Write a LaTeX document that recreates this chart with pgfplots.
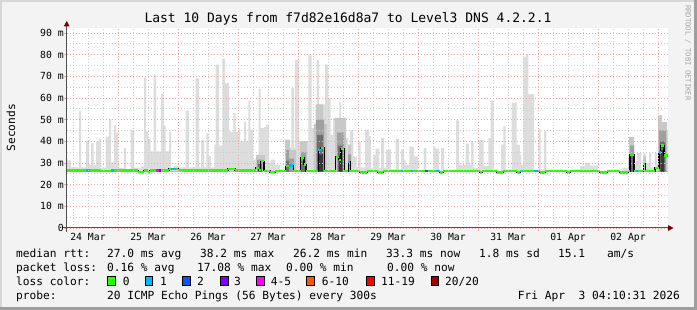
\documentclass[border=0pt]{standalone}
\usepackage{pgfplots}
\usepackage{pgfplotstable}
\pgfplotsset{compat=1.18}
\usepackage{fontspec}
\setmainfont{DejaVu Sans Mono}
\definecolor{bgc}{RGB}{243,243,243}
\definecolor{shadeB}{RGB}{158,158,158}
\definecolor{shadeA}{RGB}{215,215,215}
\definecolor{smokeA}{RGB}{221,221,221}
\definecolor{smokeB}{RGB}{200,200,200}
\definecolor{smokeC}{RGB}{160,160,160}
\definecolor{smokeD}{RGB}{110,110,110}
\definecolor{smokeE}{RGB}{55,55,55}
\definecolor{gridminor}{RGB}{205,205,205}
\definecolor{gridmajor}{RGB}{245,165,165}
\definecolor{lossA}{RGB}{38,255,0}
\definecolor{lossB}{RGB}{0,184,255}
\definecolor{lossC}{RGB}{0,89,255}
\definecolor{lossD}{RGB}{126,0,255}
\definecolor{lossE}{RGB}{255,0,255}
\definecolor{lossF}{RGB}{255,85,0}
\definecolor{lossG}{RGB}{255,0,0}
\definecolor{lossH}{RGB}{161,0,0}
\definecolor{arrowc}{RGB}{128,0,0}
\definecolor{axiscol}{RGB}{80,80,80}

% light smoke (upper envelope), x in hours, y in ms
\pgfplotstableread{
x y
-20.4 26
-20.4 32.3
-20.12 31.2
-18.8 28
-15.6 54.2
-14.8 28
-12.8 40.3
-11.6 29.2
-10.8 39.2
-9.72 29.2
-8.8 39.7
-7.72 41
-6.8 27.7
-4.92 42.2
-3.6 50.3
-2.8 30.3
-1.6 47.2
-0.8 43.8
0.12 27.7
2.4 36.9
3.2 26.5
5.08 45
6.4 27.7
9.2 28.5
10.4 69.5
11.2 44.6
12.12 41
13.08 35.4
14.28 70.8
15.2 35.4
17.2 62
18.28 47.2
19.08 35.4
20.4 44.5
21.2 27
22.28 28.5
24.4 28
27.08 54.2
28.4 28
31.08 69.2
32.4 28
33.2 40.6
34.52 28
35.32 43.7
36.28 33.2
37.2 28
38.52 38.5
39.08 75.4
40.4 38
41.72 78.2
42.8 66.9
44.4 44.6
45.2 44.3
46.12 53
47.08 44.3
48.12 46
48.8 40
50.4 49
51.2 40
52.12 58.8
52.92 45.4
54.12 31.5
55.08 32.3
56.28 64.2
57.08 46.2
58.4 46.6
59.2 47.7
60.4 30
61.08 31.5
62.8 29.2
64.8 27
67.08 40.3
68.4 36.9
69.32 64.6
70.4 36.9
70.8 77.5
72.4 40
76.12 79.7
77.48 46
79.48 77.5
80.4 57
82.8 75.4
84.12 60
85.08 43
86 50.8
88.52 58
89.2 50.8
90.8 41.5
92 38.5
92.8 45
94.12 33
95.48 28
96.12 40
97.08 28
98.8 45.4
100.4 42.3
101.2 27.5
102.12 33.8
103.08 36.6
104.4 27.7
105.2 41.5
106.4 27.7
107.2 36.2
109.2 27
111.08 41
112.4 27
113.2 36.2
114.4 31.5
115.08 29.2
116.52 37.7
117.48 37.4
118.4 33
120.12 26.5
122.28 36.9
123.32 26.5
126.12 37.4
127.08 36.6
128.4 26.5
129.2 36.9
130.4 26.5
135.2 49.7
136.4 29.2
137.6 29
139.08 38.9
140.4 29.2
141.2 40
142.28 27.7
144.4 40.5
146.28 28.7
148.12 41.5
149.08 58.8
150.28 26.5
153.2 38.5
154.12 46.9
155.08 27
157.48 57.7
159.48 38.5
160.8 33.8
161.2 29.2
162.12 78.8
163.08 80.3
164.12 61.8
166.4 26.5
168.12 45.7
169.08 27
170.4 44.6
171.32 26.5
184.8 28.5
186.8 30
188.8 28.8
192 26.5
201.48 27.7
204 33
204.8 42
206.4 30.8
207.48 34.6
209.2 26.5
210.12 34.6
211.08 30
212.4 34.6
213.2 28
214.68 34.6
215.6 30
216.4 52
217.48 48.9
219.6 45
220 26
}\smokeLight

\pgfplotstableread{
x y
-20.4 26
55.2 33.8
58.8 26
66.8 40.8
68.8 36
71.2 26
72.8 40
75.6 26
78.4 48
79 57
82 48
83.6 26
86.8 50.8
91.2 26
92 38.5
93.2 26
204.4 42
206.4 26
210 33
211.2 26
216 52
217.6 48.9
219.6 26
220 26
}\smokeMid

\pgfplotstableread{
x y
-20.4 26
55.6 31.5
57.6 26
67.2 36
68.4 32
70.4 26
73.2 35
75.2 26
79.2 50
82.4 26
87.6 44
90.4 26
92 34
93.2 26
204.8 38
206.4 26
216.4 45
219.2 26
220 26
}\smokeDark

\pgfplotstableread{
x y
-20.4 26
56 29.5
57.6 26
67.2 31
68.4 26
73.2 31
74.8 26
79.6 43
82 26
88 38
90 26
204.8 34
206 26
216.8 40
218.8 26
220 26
}\smokeCore

\pgfplotstableread{
x y
-20.4 26
80 34
82 26
88.4 33
89.6 26
217 36
218.4 26
220 26
}\smokeInner

\pgfplotstableread{
x y
-20.4 26.6
-6.8 26.4
-2.8 26.6
8 25.9
10.4 26.6
12 25.9
12.8 26.6
20.4 27.2
24 26.9
26 26.6
44 27.3
46.8 26.6
55.08 27.7
56.28 26.8
57.08 30.8
58.4 26.4
60.8 25.8
62.8 26.2
67.08 28.5
68.52 28.9
70.08 26.2
73.08 32.6
74.4 29.2
75.2 26.3
80.12 36
81.08 36.9
82.52 26.2
87.08 32.9
88.4 31.5
89.2 36.6
90.52 26.2
92.12 30.5
92.92 26.2
96.8 25.6
99.6 26.2
104 25.6
106 26.2
128.8 25.6
130 26.2
144.8 25.6
145.6 26.2
151.6 25.6
154 26.2
159.6 25.6
160.8 26.2
168.8 25.6
170.8 26.2
179.6 25.6
180.8 26.2
192.8 25.6
195.6 26.2
200.8 25.6
204 26.2
204.8 33.8
206.4 26.2
210.12 29.5
210.92 26.2
214.8 27.7
216.4 34.9
217.08 38
218.4 33.4
220 33.4
}\median

\begin{document}
\begin{tikzpicture}[x=1pt,y=1pt]
\useasboundingbox (0,0) rectangle (697,310);
\fill[bgc] (0,0) rectangle (697,310);
\fill[shadeA] (0,308) rectangle (697,310);
\fill[shadeA] (0,0) rectangle (2,310);
\fill[shadeB] (694,0) rectangle (697,310);
\fill[shadeB] (0,0) rectangle (697,3);

\node[font=\fontsize{13}{15}\selectfont, anchor=base] at (348,287) {Last 10 Days from f7d82e16d8a7 to Level3 DNS 4.2.2.1};
\node[font=\fontsize{7.2}{8}\selectfont, text=black!35, rotate=-90, anchor=west, inner sep=0pt] at (688,305) {RRDTOOL / TOBI OETIKER};
\node[font=\fontsize{11.2}{13}\selectfont, rotate=90, inner sep=0pt] at (11,182.3) {Seconds};

\begin{axis}[
  at={(67pt,82pt)}, anchor=south west,
  scale only axis, width=601pt, height=200pt,
  xmin=-20.4, xmax=220, ymin=0, ymax=92.3,
  axis lines=left, axis line style={draw=none},
  axis background/.style={fill=white},
  axis on top,
  clip=true,
  xtick={-24,0,24,48,72,96,120,144,168,192,216,240},
  xticklabels={},
  minor x tick num=3,
  extra x ticks={-12,12,36,60,84,108,132,156,180,204},
  extra x tick labels={24 Mar,25 Mar,26 Mar,27 Mar,28 Mar,29 Mar,30 Mar,31 Mar,01 Apr,02 Apr},
  extra x tick style={grid=none, major tick length=0pt},
  ytick={0,10,20,30,40,50,60,70,80,90},
  yticklabels={0,10 m,20 m,30 m,40 m,50 m,60 m,70 m,80 m,90 m},
  minor y tick num=1,
  xmajorgrids, xminorgrids, ymajorgrids, yminorgrids,
  major grid style={gridmajor, dash pattern=on 1pt off 2pt, line width=0.8pt},
  minor grid style={gridminor, dash pattern=on 1pt off 2pt, line width=0.8pt},
  tick align=outside,
  major tick length=3pt, minor tick length=0pt,
  tick style={gridmajor, line width=0.8pt},
  tick label style={font=\fontsize{9.8}{11}\selectfont},
  xticklabel style={anchor=base, inner sep=0pt, yshift=-12.7pt},
  yticklabel style={anchor=east, inner sep=0pt},
]
\addplot[const plot, fill=smokeA, draw=none] table {\smokeLight};
\addplot[const plot, fill=smokeB, draw=none] table {\smokeMid};
\addplot[const plot, fill=smokeC, draw=none] table {\smokeDark};
\addplot[const plot, fill=smokeD, draw=none] table {\smokeCore};
\addplot[const plot, fill=smokeE, draw=none] table {\smokeInner};
\addplot[const plot, black, line width=1.2pt] table {\median};
\addplot[jump mark left, lossA, line width=2.4pt] table {\median};
\addplot[lossB, line width=2.4pt, unbounded coords=jump] coordinates {
(-12.8,26.6) (-11.2,26.6) (-11,nan)
(-2.8,26.6) (-1.6,26.6) (-1.5,nan)
(21.2,27.2) (23.2,27.2) (23.3,nan)
(68.52,28.9) (70.08,28.9) (70.1,nan)
(80.12,36) (81.08,36) (81.1,nan)
(92.12,30.5) (92.92,30.5) (93,nan)
(113.2,26.2) (114,26.2) (114.1,nan)
(117.2,26.2) (118,26.2) (118.1,nan)
(127.2,26.2) (128.4,26.2) (128.5,nan)
(161.4,26.2) (162.2,26.2) (162.3,nan)
(166.4,26.2) (168.4,26.2) (168.5,nan)
(207.2,26.2) (208,26.2) (208.1,nan)
(216.4,34.9) (217.08,34.9)
};
\addplot[lossC, line width=2.4pt] coordinates {(122.8,26.2) (124,26.2)};
\addplot[lossE, line width=2.4pt] coordinates {(15.2,26.6) (16.4,26.6)};
\addplot[lossD, line width=2.4pt] coordinates {(16.4,26.6) (17.2,26.6)};
\end{axis}

% axis lines with arrows
\draw[axiscol, line width=1pt] (66.7,78.3) -- (66.7,284);
\draw[axiscol, line width=1pt] (62.7,82) -- (668.5,82);
\fill[arrowc] (63.7,283.5) -- (69.7,283.5) -- (66.7,289) -- cycle;
\fill[arrowc] (668,79) -- (668,85) -- (673.5,82) -- cycle;

% legend
\begin{scope}[font=\fontsize{11.2}{13}\selectfont]
\node[anchor=base west, inner sep=0pt] at (16,52.5) {median rtt:};
\node[anchor=base west, inner sep=0pt] at (107,52.5) {27.0 ms avg};
\node[anchor=base west, inner sep=0pt] at (200,52.5) {38.2 ms max};
\node[anchor=base west, inner sep=0pt] at (293,52.5) {26.2 ms min};
\node[anchor=base west, inner sep=0pt] at (386,52.5) {33.3 ms now};
\node[anchor=base west, inner sep=0pt] at (479,52.5) {1.8 ms sd};
\node[anchor=base west, inner sep=0pt] at (558,52.5) {15.1};
\node[anchor=base west, inner sep=0pt] at (607,52.5) {am/s};

\node[anchor=base west, inner sep=0pt] at (16,38.5) {packet loss:};
\node[anchor=base west, inner sep=0pt] at (107,38.5) {0.16 \% avg};
\node[anchor=base west, inner sep=0pt] at (197,38.5) {17.08 \% max};
\node[anchor=base west, inner sep=0pt] at (286,38.5) {0.00 \% min};
\node[anchor=base west, inner sep=0pt] at (387,38.5) {0.00 \% now};

\node[anchor=base west, inner sep=0pt] at (16,24.5) {loss color:};
\draw[black, line width=0.8pt, fill=lossA] (107.5,24.8) rectangle (115,33.5);
\node[anchor=base west, inner sep=0pt] at (122.7,24.5) {0};
\draw[black, line width=0.8pt, fill=lossB] (145.2,24.8) rectangle (152.7,33.5);
\node[anchor=base west, inner sep=0pt] at (160,24.5) {1};
\draw[black, line width=0.8pt, fill=lossC] (182.7,24.8) rectangle (190.2,33.5);
\node[anchor=base west, inner sep=0pt] at (197,24.5) {2};
\draw[black, line width=0.8pt, fill=lossD] (220.7,24.8) rectangle (228.2,33.5);
\node[anchor=base west, inner sep=0pt] at (234,24.5) {3};
\draw[black, line width=0.8pt, fill=lossE] (256.7,24.8) rectangle (264.2,33.5);
\node[anchor=base west, inner sep=0pt] at (270.7,24.5) {4-5};
\draw[black, line width=0.8pt, fill=lossF] (306.7,24.8) rectangle (314.2,33.5);
\node[anchor=base west, inner sep=0pt] at (321.7,24.5) {6-10};
\draw[black, line width=0.8pt, fill=lossG] (366.7,24.8) rectangle (374.2,33.5);
\node[anchor=base west, inner sep=0pt] at (381,24.5) {11-19};
\draw[black, line width=0.8pt, fill=lossH] (431,24.8) rectangle (438.5,33.5);
\node[anchor=base west, inner sep=0pt] at (445,24.5) {20/20};

\node[anchor=base west, inner sep=0pt] at (16,10.7) {probe:};
\node[anchor=base west, inner sep=0pt] at (107,10.7) {20 ICMP Echo Pings (56 Bytes) every 300s};
\node[anchor=base east, inner sep=0pt] at (680,10.7) {Fri Apr~~3 04:10:31 2026};
\end{scope}
\end{tikzpicture}
\end{document}
